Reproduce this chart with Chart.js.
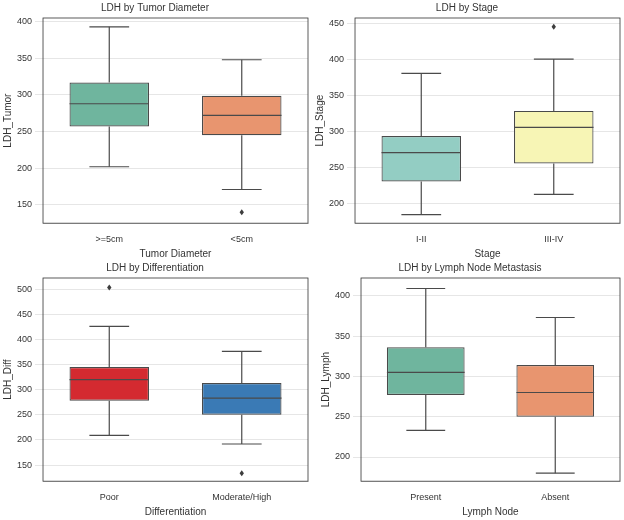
<!DOCTYPE html>
<html><head><meta charset="utf-8">
<script src="https://cdn.jsdelivr.net/npm/chart.js@4/dist/chart.umd.min.js"></script>
<style>
body{margin:0;background:#fff;width:624px;height:520px;position:relative;font-family:"DejaVu Sans",sans-serif}
.p{position:absolute;width:312px;height:260px}
</style></head><body>
<div class="p" style="left:0;top:0"><canvas id="c1"></canvas></div>
<div class="p" style="left:312px;top:0"><canvas id="c2"></canvas></div>
<div class="p" style="left:0;top:260px"><canvas id="c3"></canvas></div>
<div class="p" style="left:312px;top:260px"><canvas id="c4"></canvas></div>
<script>
// Tumor diameter
const tumorCats=[">=5cm","<5cm"];
const tumorMin=[202,171],tumorQ1=[257,245],tumorMed=[288,272],tumorQ3=[317,299],tumorMax=[393,348];
const tumorOut=[[],[140]];
const tumorTicks=[150,200,250,300,350,400];
// Stage
const stageCats=["I-II","III-IV"];
const stageMin=[184,212],stageQ1=[230,255],stageMed=[270,305],stageQ3=[293,328],stageMax=[380,400];
const stageOut=[[],[445]];
const stageTicks=[200,250,300,350,400,450];
// Differentiation
const diffCats=["Poor","Moderate/High"];
const diffMin=[209,192],diffQ1=[278,250],diffMed=[320,283],diffQ3=[345,313],diffMax=[426,376];
const diffOut=[[503],[134]];
const diffTicks=[150,200,250,300,350,400,450,500];
// Lymph node
const lymphCats=["Present","Absent"];
const lymphMin=[233,180],lymphQ1=[277,250],lymphMed=[305,280],lymphQ3=[336,314],lymphMax=[409,373];
const lymphOut=[[],[]];
const lymphTicks=[200,250,300,350,400];

const LINE="#4a4a4a";
const boxPlugin={id:"box",afterDatasetsDraw(ch,args,opts){
  const s=opts.stats;if(!s)return;const ctx=ch.ctx,y=ch.scales.y,meta=ch.getDatasetMeta(0);
  ctx.save();ctx.strokeStyle=LINE;ctx.lineWidth=1.2;
  meta.data.forEach((b,i)=>{
    const x=b.x,w=b.width,cw=w*0.5;
    const l=(x1,y1,x2,y2)=>{ctx.beginPath();ctx.moveTo(x1,y1);ctx.lineTo(x2,y2);ctx.stroke();};
    l(x-w/2,y.getPixelForValue(s.med[i]),x+w/2,y.getPixelForValue(s.med[i]));
    l(x,y.getPixelForValue(s.q3[i]),x,y.getPixelForValue(s.max[i]));
    l(x,y.getPixelForValue(s.q1[i]),x,y.getPixelForValue(s.min[i]));
    l(x-cw/2,y.getPixelForValue(s.max[i]),x+cw/2,y.getPixelForValue(s.max[i]));
    l(x-cw/2,y.getPixelForValue(s.min[i]),x+cw/2,y.getPixelForValue(s.min[i]));
    ctx.fillStyle="#3d3d3d";
    s.out[i].forEach(v=>{const py=y.getPixelForValue(v);ctx.beginPath();ctx.moveTo(x,py-3);ctx.lineTo(x+2.2,py);ctx.lineTo(x,py+3);ctx.lineTo(x-2.2,py);ctx.closePath();ctx.fill();});
  });
  const a=ch.chartArea;ctx.strokeStyle="#333";ctx.lineWidth=0.8;ctx.strokeRect(a.left,a.top,a.right-a.left,a.bottom-a.top);
  ctx.restore();
}};
function make(id,title,xt,yt,cats,min,q1,med,q3,max,out,cols,ymin,ymax,ticks,pad){
  new Chart(document.getElementById(id),{type:"bar",
    data:{labels:cats,datasets:[{data:cats.map((_,i)=>[q1[i],q3[i]]),backgroundColor:cols,borderColor:LINE,borderWidth:1.2,borderSkipped:false,barPercentage:0.6,categoryPercentage:1}]},
    options:{responsive:false,animation:false,devicePixelRatio:1,
      layout:{padding:pad},
      plugins:{legend:{display:false},tooltip:{enabled:false},box:{stats:{min,q1,med,q3,max,out}},
        title:{display:true,text:title,color:"#333",font:{size:10,weight:"normal"},padding:{top:2,bottom:4}}},
      scales:{x:{grid:{display:false},ticks:{color:"#333",font:{size:9}},title:{display:true,text:xt,color:"#333",font:{size:10},padding:0}},
        y:{min:ymin,max:ymax,afterBuildTicks:ax=>{ax.ticks=ticks.map(v=>({value:v}));},ticks:{color:"#333",font:{size:9}},grid:{color:"#e6e6e6"},border:{display:false},title:{display:true,text:yt,color:"#333",font:{size:10},padding:0}}}},
    plugins:[boxPlugin]});
}
document.querySelectorAll("canvas").forEach(c=>{c.width=312;c.height=260;});
make("c1","LDH by Tumor Diameter","Tumor Diameter","LDH_Tumor",tumorCats,tumorMin,tumorQ1,tumorMed,tumorQ3,tumorMax,tumorOut,["#6fb59e","#e8956f"],125,405,tumorTicks,{left:2,right:4,bottom:0});
make("c2","LDH by Stage","Stage","LDH_Stage",stageCats,stageMin,stageQ1,stageMed,stageQ3,stageMax,stageOut,["#93cdc3","#f7f5b5"],172,457,stageTicks,{left:2,right:4,bottom:0});
make("c3","LDH by Differentiation","Differentiation","LDH_Diff",diffCats,diffMin,diffQ1,diffMed,diffQ3,diffMax,diffOut,["#d42a30","#3a7ab5"],118,522,diffTicks,{left:2,right:4,bottom:2});
make("c4","LDH by Lymph Node Metastasis","Lymph Node","LDH_Lymph",lymphCats,lymphMin,lymphQ1,lymphMed,lymphQ3,lymphMax,lymphOut,["#6fb59e","#e8956f"],170,422,lymphTicks,{left:8,right:4,bottom:2});
</script></body></html>
